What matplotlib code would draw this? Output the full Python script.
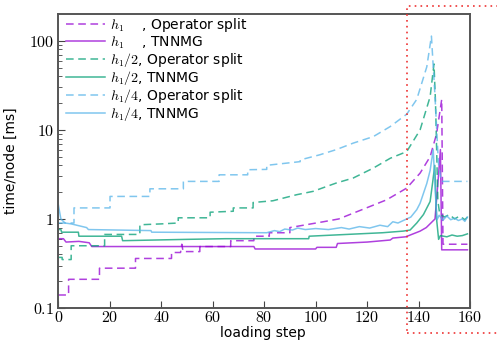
import matplotlib
matplotlib.use("Agg")
import matplotlib.pyplot as plt
from matplotlib.patches import Rectangle
from matplotlib.ticker import FixedLocator, NullFormatter

plt.rcParams['mathtext.fontset'] = 'cm'
plt.rcParams['font.family'] = ['DejaVu Sans']

# h1, operator split
h1_os_x = [0, 4, 4, 16, 16, 30, 30, 44, 44, 47.5, 48, 48.5, 55, 55, 67, 67, 76, 76,
           82, 82, 90, 90, 103, 109, 118, 127.6, 135.4, 140.6, 144.5, 147, 149, 149.5, 159]
h1_os_y = [0.14, 0.14, 0.21, 0.21, 0.28, 0.28, 0.36, 0.36, 0.42, 0.42, 0.52, 0.43, 0.43, 0.49,
           0.49, 0.57, 0.57, 0.64, 0.64, 0.70, 0.70, 0.80, 0.93, 1.0, 1.27, 1.64, 2.22, 3.27,
           5.0, 9.0, 22.0, 0.52, 0.52]

# h1, TNNMG
h1_tn_x = [0, 2, 3, 8, 12, 13, 76, 76.5, 100, 100.5, 108, 108.5, 120, 129, 130, 135,
           140.6, 143, 146.4, 147.5, 148.5, 149, 159]
h1_tn_y = [0.60, 0.60, 0.55, 0.56, 0.54, 0.49, 0.49, 0.46, 0.46, 0.48, 0.48, 0.53, 0.55,
           0.58, 0.61, 0.63, 0.73, 0.80, 1.0, 2.5, 6.0, 0.45, 0.45]

# h1/2, operator split
h2_os_x = [0, 1.5, 1.5, 5, 5, 18, 18, 31.7, 31.7, 40, 46.6, 46.6, 59, 59, 68, 68, 75.7,
           75.7, 83.4, 92.6, 99, 104, 108, 114.6, 122.4, 129, 135.4, 140.6, 144.5, 146,
           146.6, 147.5, 148.2, 150, 152, 154, 156, 158, 159]
h2_os_y = [0.37, 0.37, 0.35, 0.35, 0.50, 0.50, 0.67, 0.67, 0.86, 0.88, 0.90, 1.03, 1.03,
           1.19, 1.22, 1.33, 1.33, 1.53, 1.60, 1.87, 2.04, 2.30, 2.53, 2.88, 3.72, 4.8, 5.7,
           10.0, 23.6, 55.0, 20.0, 1.6, 1.15, 1.05, 1.12, 1.0, 1.08, 0.98, 1.05]

# h1/2, TNNMG
h2_tn_x = [0, 1, 1.3, 7.8, 8, 24.6, 25, 50, 65, 97.3, 97.5, 126, 134, 136.7, 139.3, 141.9,
           144.5, 145.5, 146.3, 147, 147.8, 148.5, 151, 153, 155, 157, 159]
h2_tn_y = [0.76, 0.76, 0.71, 0.71, 0.64, 0.64, 0.57, 0.59, 0.60, 0.60, 0.64, 0.70, 0.73,
           0.75, 0.90, 1.12, 1.57, 2.6, 4.0, 1.0, 0.59, 0.65, 0.63, 0.66, 0.64, 0.65, 0.68]

# h1/4, operator split
h4_os_x = [0, 6.1, 6.1, 20.1, 20.1, 35.6, 35.6, 48.6, 48.6, 62.5, 62.5, 73.6, 73.6, 81, 81,
           94, 94, 101.6, 108, 114.6, 122.4, 129, 135.4, 139.3, 143.2, 145, 146.4, 147.7,
           148.8, 159]
h4_os_y = [0.90, 0.90, 1.33, 1.33, 1.79, 1.79, 2.18, 2.18, 2.64, 2.64, 3.13, 3.13, 3.57, 3.6,
           4.0, 4.4, 4.6, 5.25, 6.0, 7.1, 8.4, 10.9, 15.0, 22.0, 51.0, 113.0, 23.6, 4.3,
           2.64, 2.64]

# h1/4, TNNMG
h4_tn_x = [0, 1, 2.6, 5, 11, 11.7, 36, 36.3, 81, 84, 86, 88, 91, 93, 96, 100, 105, 110,
           113, 117, 121, 125, 128, 130, 132, 135.4, 137, 139.3, 140.6, 143.2, 144.5, 145.7,
           146.5, 147.2, 148, 149.5, 151, 152.5, 154, 155.5, 157, 158, 159]
h4_tn_y = [1.45, 1.0, 0.90, 0.88, 0.80, 0.76, 0.74, 0.71, 0.70, 0.74, 0.72, 0.77, 0.75,
           0.79, 0.76, 0.78, 0.76, 0.80, 0.77, 0.82, 0.79, 0.85, 0.82, 0.93, 0.90, 1.0, 1.05,
           1.27, 1.5, 2.5, 3.5, 6.0, 2.0, 0.98, 1.1, 0.97, 1.08, 0.98, 1.02, 0.96, 1.0, 0.94,
           1.05]

purple = '#9400D3'
green = '#009E73'
blue = '#56B4E9'

fig = plt.figure(figsize=(4.97, 3.4), dpi=100)
ax = fig.add_axes([0.1173, 0.0941, 0.8284, 0.8647])

dash = (0, (5, 3))
ax.plot(h1_os_x, h1_os_y, color=purple, ls=dash, lw=1.1, alpha=0.75,
        label=r'$h_1$    , Operator split')
ax.plot(h1_tn_x, h1_tn_y, color=purple, lw=1.1, alpha=0.75,
        label=r'$h_1$    , TNNMG')
ax.plot(h2_os_x, h2_os_y, color=green, ls=dash, lw=1.1, alpha=0.75,
        label=r'$h_1/2$, Operator split')
ax.plot(h2_tn_x, h2_tn_y, color=green, lw=1.1, alpha=0.75,
        label=r'$h_1/2$, TNNMG')
ax.plot(h4_os_x, h4_os_y, color=blue, ls=dash, lw=1.1, alpha=0.75,
        label=r'$h_1/4$, Operator split')
ax.plot(h4_tn_x, h4_tn_y, color=blue, lw=1.1, alpha=0.75,
        label=r'$h_1/4$, TNNMG')

ax.set_yscale('log')
ax.set_xlim(0, 160)
ax.set_ylim(0.1, 200)

xt = [0, 20, 40, 60, 80, 100, 120, 140, 160]
ax.set_xticks(xt)
ax.set_xticklabels(['$%d$' % v for v in xt])
yt = [0.1, 1, 10, 100]
ax.yaxis.set_major_locator(FixedLocator(yt))
ax.set_yticklabels(['$0.1$', '$1$', '$10$', '$100$'])
minors = [m * 10.0 ** e for e in (-1, 0, 1, 2) for m in range(2, 10) if m * 10.0 ** e < 200]
ax.yaxis.set_minor_locator(FixedLocator(minors))
ax.yaxis.set_minor_formatter(NullFormatter())

ax.tick_params(axis='both', which='major', direction='in', length=5, width=0.8,
               labelsize=11.5, colors='#444444', labelcolor='black', pad=3)
ax.tick_params(axis='x', which='major', pad=1.5)
ax.tick_params(axis='y', which='minor', direction='in', length=3, width=0.6,
               colors='#444444')
ax.tick_params(top=False, right=False, which='both')
for s in ax.spines.values():
    s.set_color('#555555')
    s.set_linewidth(1.4)

ax.set_ylabel('time/node [ms]', fontsize=10, labelpad=8)
# x label sits right at the lower edge of the figure
fig.text(0.528, 0.0, 'loading step', fontsize=10, ha='center', va='bottom')

leg = ax.legend(loc='upper left', frameon=False, fontsize=10, handlelength=2.8,
                handletextpad=0.4, labelspacing=0.0, borderaxespad=0.15,
                bbox_to_anchor=(0.0, 1.018))

# dotted red box on the right
fig.add_artist(Rectangle((407 / 497, 1 - 333 / 340), 0.3, (333 - 6) / 340,
                         transform=fig.transFigure, fill=False, edgecolor='#ee3333',
                         ls=(0, (1, 2.5)), lw=1.2, clip_on=False))

fig.savefig('out.png', dpi=100)
